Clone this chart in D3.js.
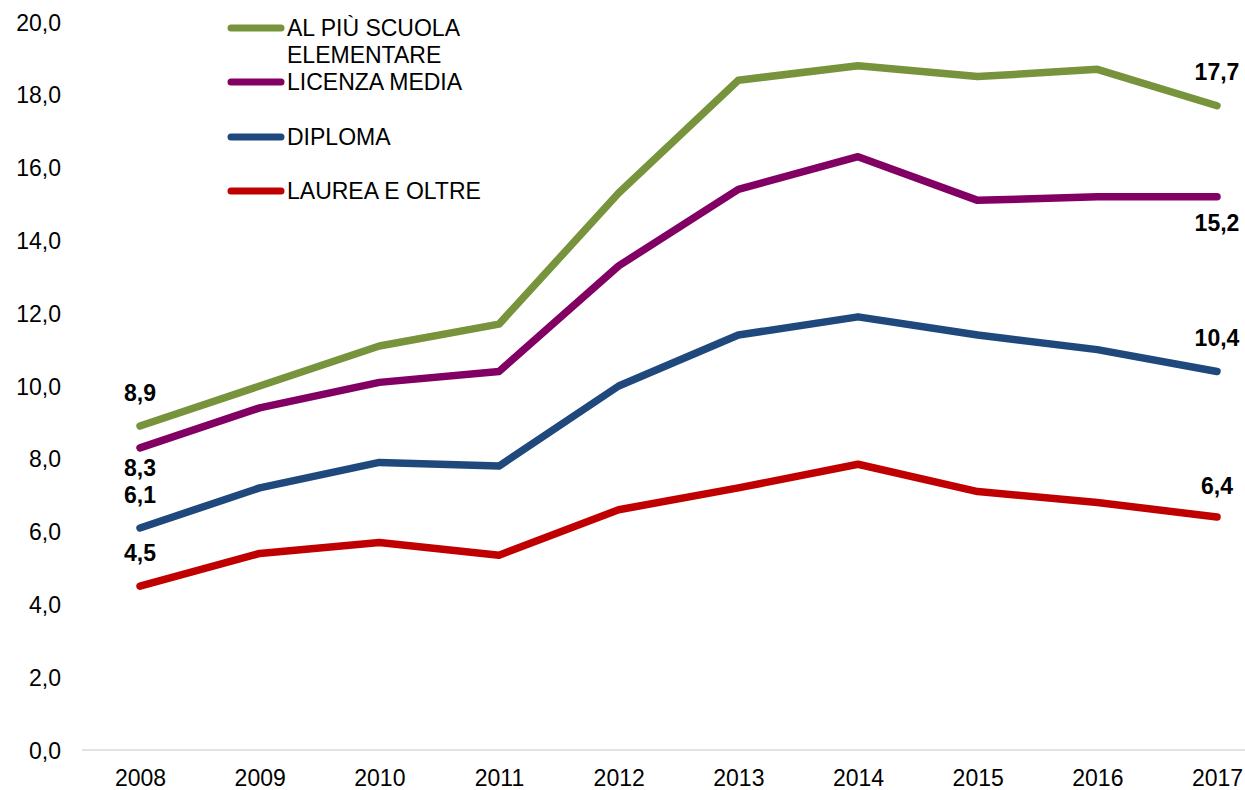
<!DOCTYPE html>
<html>
<head>
<meta charset="utf-8">
<script src="https://cdn.jsdelivr.net/npm/d3@7"></script>
<style>
  body { margin: 0; background: #fff; }
  text { font-family: "Liberation Sans", Arial, sans-serif; }
</style>
</head>
<body>
<div id="chart"></div>
<script>
var years = [2008, 2009, 2010, 2011, 2012, 2013, 2014, 2015, 2016, 2017];
var seriesNames = ["AL PIÙ SCUOLA ELEMENTARE", "LICENZA MEDIA", "DIPLOMA", "LAUREA E OLTRE"];
var elementare = [8.9, 10.0, 11.1, 11.7, 15.3, 18.4, 18.8, 18.5, 18.7, 17.7];
var media      = [8.3, 9.4, 10.1, 10.4, 13.3, 15.4, 16.3, 15.1, 15.2, 15.2];
var diploma    = [6.1, 7.2, 7.9, 7.8, 10.0, 11.4, 11.9, 11.4, 11.0, 10.4];
var laurea     = [4.5, 5.4, 5.7, 5.35, 6.6, 7.2, 7.85, 7.1, 6.8, 6.4];
var yTicks = [0, 2, 4, 6, 8, 10, 12, 14, 16, 18, 20];

var colors = ["#77933C", "#820064", "#1F497D", "#C00000"];
// vertical offset of the end labels (first point, last point) from the line
var labelOffsets = [[-33, -34], [20, 26], [-33, -33], [-33, -31]];

var svgWidth = 1245, svgHeight = 790;
var fontSize = 23;
var fmt = function(v) { return d3.format(".1f")(v).replace(".", ","); };

var svg = d3.select("#chart").append("svg")
  .attr("width", svgWidth)
  .attr("height", svgHeight);

var x = d3.scalePoint().domain(years).range([140, 1217]);
var y = d3.scaleLinear().domain([0, 20]).range([750, 22]);

// baseline
svg.append("line")
  .attr("x1", 82).attr("x2", 1245)
  .attr("y1", y(0)).attr("y2", y(0))
  .attr("stroke", "#d9d9d9").attr("stroke-width", 1.5);

// y axis labels
var yAxis = d3.axisLeft(y).tickValues(yTicks).tickFormat(fmt).tickSize(0).tickPadding(0);
var gy = svg.append("g").attr("transform", "translate(61,0)").call(yAxis);
gy.select(".domain").remove();
gy.selectAll("text")
  .attr("dy", null)
  .attr("y", 8)
  .style("font-family", "Liberation Sans, Arial, sans-serif")
  .style("font-size", fontSize + "px")
  .attr("fill", "#000");

// x axis labels
var xAxis = d3.axisBottom(x).tickSize(0).tickPadding(0);
var gx = svg.append("g").attr("transform", "translate(0,786)").call(xAxis);
gx.select(".domain").remove();
gx.selectAll("text")
  .attr("dy", null)
  .attr("y", 0)
  .style("font-family", "Liberation Sans, Arial, sans-serif")
  .style("font-size", fontSize + "px")
  .attr("fill", "#000");

var allSeries = [elementare, media, diploma, laurea];
var line = d3.line()
  .x(function(d, i) { return x(years[i]); })
  .y(function(d) { return y(d); });

allSeries.forEach(function(vals, s) {
  svg.append("path")
    .datum(vals)
    .attr("d", line)
    .attr("fill", "none")
    .attr("stroke", colors[s])
    .attr("stroke-width", 7.5)
    .attr("stroke-linecap", "round")
    .attr("stroke-linejoin", "round");

  [0, vals.length - 1].forEach(function(i, k) {
    svg.append("text")
      .attr("x", x(years[i]))
      .attr("y", y(vals[i]) + labelOffsets[s][k] + 8)
      .attr("text-anchor", "middle")
      .style("font-size", fontSize + "px")
      .style("font-weight", "bold")
      .text(fmt(vals[i]));
  });
});

// legend
var legendRows = [28, 82, 137, 191];
var legend = svg.append("g");
seriesNames.forEach(function(name, s) {
  var ly = legendRows[s];
  legend.append("line")
    .attr("x1", 231).attr("x2", 281)
    .attr("y1", ly).attr("y2", ly)
    .attr("stroke", colors[s])
    .attr("stroke-width", 7)
    .attr("stroke-linecap", "round");
  var t = legend.append("text")
    .attr("x", 287)
    .attr("y", ly + 8)
    .style("font-size", fontSize + "px")
    .attr("fill", "#000");
  if (s === 0) {
    t.append("tspan").attr("x", 287).text("AL PIÙ SCUOLA");
    t.append("tspan").attr("x", 287).attr("dy", 27).text("ELEMENTARE");
  } else {
    t.text(name);
  }
});
</script>
</body>
</html>
